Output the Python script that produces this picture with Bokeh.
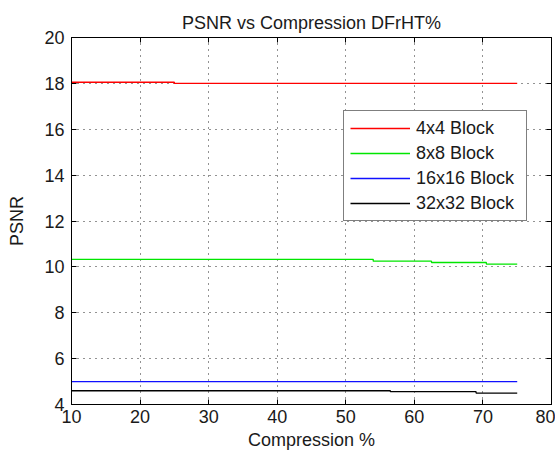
from bokeh.plotting import figure
from bokeh.models import (LinearAxis, Legend, LegendItem, FixedTicker, Range1d,
                          CustomJSTickFormatter)
from bokeh.embed import file_html
from bokeh.resources import INLINE

# Data (step changes)
x_4x4 = [10, 25, 75]
y_4x4 = [18.05, 18.0, 18.0]
x_8x8 = [10, 54, 62.5, 70.5, 75]
y_8x8 = [10.33, 10.25, 10.19, 10.12, 10.12]
x_16x16 = [10, 75]
y_16x16 = [5.0, 5.0]
x_32x32 = [10, 56.5, 69, 75]
y_32x32 = [4.6, 4.56, 4.5, 4.5]

x_ticks = [10, 20, 30, 40, 50, 60, 70, 80]
y_ticks = [4, 6, 8, 10, 12, 14, 16, 18, 20]
labels = ["4x4 Block", "8x8 Block", "16x16 Block", "32x32 Block"]
colors = ["#ff0000", "#00e600", "#1010ff", "#000000"]

FONT = "Liberation Sans"
FS = "18px"
TXT = "#1a1a1a"


def step_xy(x, y):
    xs, ys = [x[0]], [y[0]]
    for i in range(1, len(x)):
        xs += [x[i], x[i]]
        ys += [y[i - 1], y[i]]
    return xs, ys


p = figure(width=555, height=455, output_backend="svg", toolbar_location=None,
           x_range=Range1d(10, 80), y_range=Range1d(4, 20),
           min_border_left=71, min_border_right=4, min_border_top=37, min_border_bottom=51,
           x_axis_label="Compression %", y_axis_label="PSNR",
           title="PSNR vs Compression DFrHT%")
p.title.align = "center"
p.title.text_font = FONT
p.title.text_font_size = FS
p.title.text_font_style = "normal"
p.title.text_color = TXT

p.outline_line_color = "black"
p.outline_line_width = 1
p.background_fill_color = "white"
p.border_fill_color = "white"

for ax in p.xaxis + p.yaxis:
    ax.major_tick_in = 5
    ax.major_tick_out = 0
    ax.minor_tick_in = 0
    ax.minor_tick_out = 0
    ax.axis_line_color = "black"
    ax.major_tick_line_color = "black"
    ax.major_label_text_font = FONT
    ax.major_label_text_font_size = FS
    ax.major_label_text_color = TXT
    ax.axis_label_text_font = FONT
    ax.axis_label_text_font_size = FS
    ax.axis_label_text_font_style = "normal"
    ax.axis_label_text_color = TXT
p.xaxis.ticker = FixedTicker(ticks=x_ticks)
p.yaxis.ticker = FixedTicker(ticks=y_ticks)
p.xaxis.major_label_standoff = 5
p.yaxis.major_label_standoff = 7
p.xaxis.axis_label_standoff = 4
p.yaxis.axis_label_standoff = 14

blank = CustomJSTickFormatter(code="return ''")
top = LinearAxis(ticker=FixedTicker(ticks=x_ticks), formatter=blank,
                 major_tick_in=5, major_tick_out=0, minor_tick_in=0, minor_tick_out=0,
                 major_label_standoff=0)
right = LinearAxis(ticker=FixedTicker(ticks=y_ticks), formatter=blank,
                   major_tick_in=5, major_tick_out=0, minor_tick_in=0, minor_tick_out=0,
                   major_label_standoff=0)
p.add_layout(top, "above")
p.add_layout(right, "right")

for g in p.grid:
    g.grid_line_color = "black"
    g.grid_line_dash = "1 5"
    g.grid_line_alpha = 0.85
p.xgrid.ticker = FixedTicker(ticks=x_ticks)
p.ygrid.ticker = FixedTicker(ticks=y_ticks)

series = [(x_4x4, y_4x4), (x_8x8, y_8x8), (x_16x16, y_16x16), (x_32x32, y_32x32)]
items = []
for (xs, ys), lab, col in zip(series, labels, colors):
    sx, sy = step_xy(xs, ys)
    r = p.line(sx, sy, line_color=col, line_width=1.3)
    items.append(LegendItem(label=lab, renderers=[r]))

legend = Legend(items=items, location=(272, 183))
legend.label_text_font = FONT
legend.label_text_font_size = FS
legend.label_text_color = TXT
legend.glyph_width = 60
legend.glyph_height = 22
legend.label_height = 22
legend.label_width = 104
legend.spacing = 3
legend.padding = 6
legend.margin = 0
legend.label_standoff = 6
legend.border_line_color = "black"
legend.border_line_width = 1
legend.background_fill_alpha = 1
p.add_layout(legend, "center")

open("out.html", "w").write(file_html(p, INLINE))
